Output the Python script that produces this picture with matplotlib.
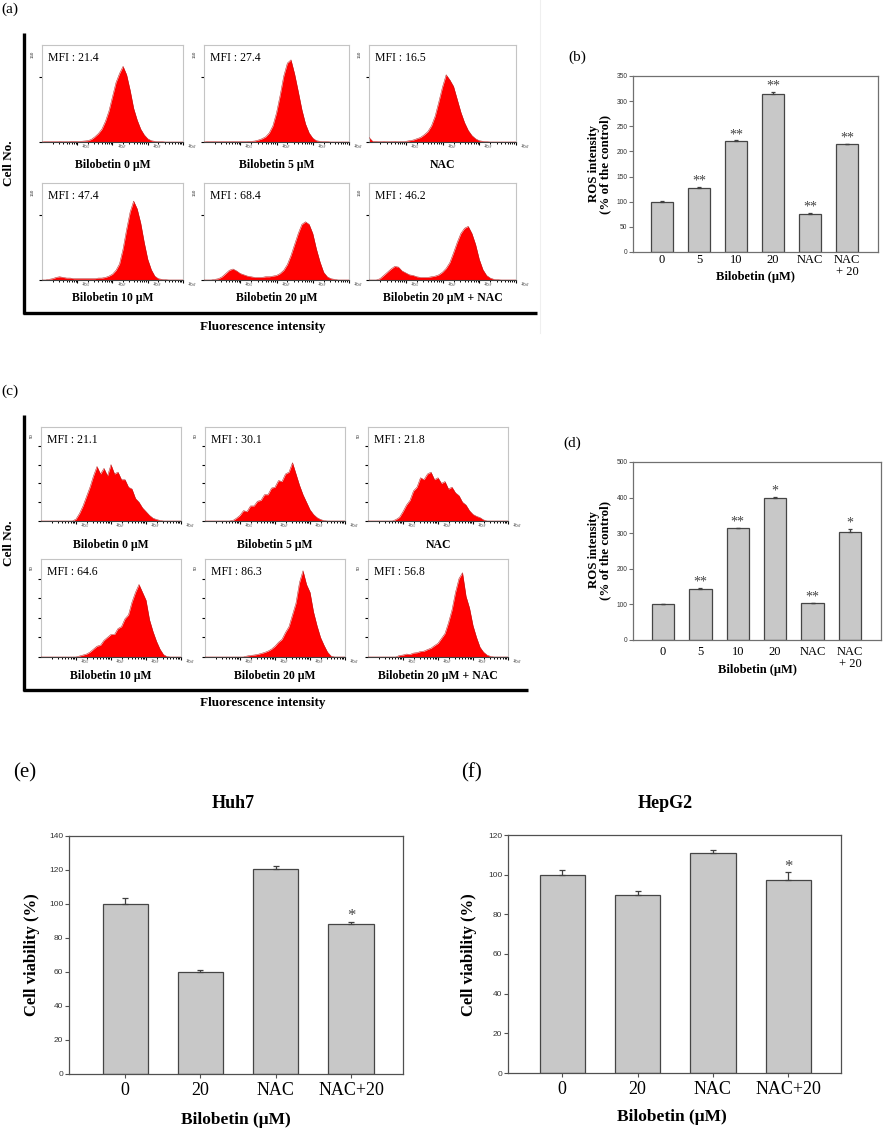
import numpy as np
import matplotlib
matplotlib.use('Agg')
import matplotlib.pyplot as plt
from matplotlib.lines import Line2D
from matplotlib.ticker import FixedLocator, NullFormatter

W, H = 886, 1130
SERIF = 'Liberation Serif'
SANS = 'Liberation Sans'

# ---------------- Flow cytometry histograms (log10 channel -> cell count) ----------------
LOG_BINS = [0.0, 0.1, 0.2, 0.3, 0.4, 0.5, 0.6, 0.7, 0.8, 0.9,
            1.0, 1.1, 1.2, 1.3, 1.4, 1.5, 1.6, 1.7, 1.8, 1.9,
            2.0, 2.1, 2.2, 2.3, 2.4, 2.5, 2.6, 2.7, 2.8, 2.9,
            3.0, 3.1, 3.2, 3.3, 3.4, 3.5, 3.6, 3.7, 3.8, 3.9, 4.0]

# panel (a)
hist_a_0uM = [0, 0.5, 0.5, 0.5, 0.5, 1, 0.5, 0.5, 1, 1,
              1, 1, 1.5, 2, 4, 8, 13, 20, 32, 48,
              70, 92, 106, 117, 104, 80, 52, 34, 20, 11,
              5, 2, 1, 0.5, 0.5, 0, 0, 0, 0, 0, 0]
hist_a_5uM = [0, 0.5, 0.5, 0.5, 0.5, 0.5, 0.5, 0.5, 0.5, 0.5,
              0.5, 0.5, 1, 1, 1.5, 3, 5, 8, 14, 25,
              45, 72, 102, 122, 127, 105, 78, 50, 28, 14,
              6, 2, 1, 0.5, 0.5, 0, 0, 0, 0, 0, 0]
hist_a_nac = [7, 1, 1, 0.5, 1, 0.5, 0.5, 1, 0.5, 0.5,
              1, 2, 3, 5, 7, 11, 16, 25, 40, 62,
              85, 104, 96, 86, 66, 46, 30, 18, 10, 5,
              2, 1, 0.5, 0, 0, 0, 0, 0, 0, 0, 0]
hist_a_10uM = [0, 0, 1, 2, 4, 5, 4, 3, 3, 2,
               2, 2, 2, 2, 2, 2, 3, 3, 4, 6,
               9, 15, 25, 48, 78, 105, 122, 110, 88, 58,
               32, 16, 6, 2, 1, 0.5, 0, 0, 0, 0, 0]
hist_a_20uM = [0, 0, 0, 1, 2, 5, 10, 15, 17, 14,
               10, 8, 6, 5, 4, 4, 4, 5, 5, 6,
               7, 10, 15, 24, 38, 55, 72, 86, 90, 86,
               72, 48, 28, 12, 5, 2, 1, 0, 0, 0, 0]
hist_a_20nac = [0, 0, 0, 2, 7, 12, 17, 21, 20, 14,
                11, 8, 7, 5, 4, 4, 4, 5, 6, 8,
                12, 18, 27, 42, 58, 72, 80, 83, 72, 55,
                32, 16, 7, 3, 1, 0.5, 0, 0, 0, 0, 0]

# panel (c)
hist_c_0uM = [0, 0, 0, 0, 0, 0, 0, 0, 0, 0,
              1, 4, 8, 13, 18, 24, 29, 25, 28, 24,
              30, 25, 26, 22, 22, 18, 17, 12, 10, 7,
              5, 3, 1.5, 0.8, 0.3, 0, 0, 0, 0, 0, 0]
hist_c_5uM = [0, 0, 0, 0, 0, 0, 0, 0, 0.3, 1.5,
              3, 5.5, 5, 8, 8, 10.5, 11, 14, 14, 17.5,
              18, 21.5, 21, 25, 26, 31, 25, 19, 14, 10,
              6, 3.5, 1.8, 0.8, 0.2, 0, 0, 0, 0, 0, 0]
hist_c_nac = [0, 0, 0, 0, 0, 0, 0, 0, 0.8, 2,
              5, 8.5, 11, 16, 18, 23, 22, 25, 26, 22,
              23, 20, 21, 17, 18, 15, 13.5, 10, 8.5, 5.5,
              3.5, 2.5, 1.8, 0.6, 0, 0, 0, 0, 0, 0, 0]
hist_c_10uM = [0, 0, 0, 0, 0, 0, 0, 0, 0, 0,
               0, 0.5, 1, 1.5, 2.5, 4, 5.5, 6, 8.5, 10,
               11.5, 11.5, 14.5, 15.5, 19.5, 21.5, 28, 33, 37, 33,
               29, 19, 13, 8, 4, 1.2, 0.2, 0, 0, 0, 0]
hist_c_20uM = [0, 0, 0, 0, 0, 0, 0, 0, 0, 0,
               0, 0, 0.5, 0.8, 1, 1.3, 1.8, 2.3, 3, 4,
               5.5, 7.5, 9, 12.5, 15.5, 21.5, 27.5, 38, 44, 37,
               33, 23, 16, 10, 6, 2.5, 0.5, 0, 0, 0, 0]
hist_c_20nac = [0, 0, 0, 0, 0, 0, 0, 0, 0, 0.8,
                1, 1.5, 1.3, 2, 2.2, 2.8, 3, 3.8, 4.5, 5.8,
                7, 9.5, 12, 17.5, 24, 33, 40, 43, 31, 25,
                16, 10, 5, 2.5, 1, 0.3, 0, 0, 0, 0, 0]

hist_titles = ['Bilobetin 0 μM', 'Bilobetin 5 μM', 'NAC',
               'Bilobetin 10 μM', 'Bilobetin 20 μM', 'Bilobetin 20 μM + NAC']
mfi_a = [21.4, 27.4, 16.5, 47.4, 68.4, 46.2]
mfi_c = [21.1, 30.1, 21.8, 64.6, 86.3, 56.8]

# ---------------- ROS bar charts ----------------
ros_labels = ['0', '5', '10', '20', 'NAC', 'NAC\n+ 20']
ros_b = [100, 127.5, 220.5, 315, 76, 214]
ros_b_err = [1, 1.2, 1.5, 2.5, 1, 1.5]
ros_b_stars = ['', '**', '**', '**', '**', '**']
ros_d = [100, 144.5, 313.5, 399, 103, 304.5]
ros_d_err = [1, 1.2, 1.5, 3.5, 1.5, 6.5]
ros_d_stars = ['', '**', '**', '*', '**', '*']

# ---------------- Cell viability ----------------
via_labels = ['0', '20', 'NAC', 'NAC+20']
via_huh7 = [100, 60, 120.5, 88]
via_huh7_err = [3.6, 1.3, 1.7, 1.7]
via_huh7_stars = ['', '', '', '*']
via_hepg2 = [100, 90, 111, 97.5]
via_hepg2_err = [2.2, 1.6, 1.3, 3.7]
via_hepg2_stars = ['', '', '', '*']

fig = plt.figure(figsize=(W / 100, H / 100), dpi=100)


def px_axes(l, t, r, b):
    return fig.add_axes([l / W, 1 - b / H, (r - l) / W, (b - t) / H])


def ftext(x, y, s, **kw):
    kw.setdefault('ha', 'center')
    kw.setdefault('va', 'center')
    kw.setdefault('family', SERIF)
    return fig.text(x / W, 1 - y / H, s, **kw)


def fline(x0, y0, x1, y1, **kw):
    fig.add_artist(Line2D([x0 / W, x1 / W], [1 - y0 / H, 1 - y1 / H],
                          transform=fig.transFigure, **kw))


def draw_hist(ax, counts, ymax, yticks, toplabel):
    x = 10 ** np.asarray(LOG_BINS)
    y = np.asarray(counts, dtype=float)
    ax.fill_between(x, 0, y, color='#ff0000', lw=0, zorder=2)
    ax.plot(x, y, color='#b41818', lw=0.35, zorder=3)
    ax.set_xscale('log')
    ax.set_xlim(1, 1e4)
    ax.set_ylim(0, ymax)
    ax.xaxis.set_major_locator(FixedLocator([10, 100, 1000, 10000]))
    ax.xaxis.set_minor_locator(FixedLocator([m * 10 ** d for d in range(4) for m in range(2, 10)]))
    ax.xaxis.set_major_formatter(NullFormatter())
    ax.xaxis.set_minor_formatter(NullFormatter())
    ax.set_yticks(yticks)
    ax.set_yticklabels([])
    ax.tick_params(axis='both', which='major', direction='out', length=2.5, width=0.8, color='black')
    ax.tick_params(axis='x', which='minor', direction='out', length=1.6, width=0.7, color='black')
    for s in ['top', 'right', 'left']:
        ax.spines[s].set_color('#c4c4c4')
        ax.spines[s].set_linewidth(0.8)
    ax.spines['bottom'].set_color('#404040')
    ax.spines['bottom'].set_linewidth(0.8)
    for d, lab in zip([10, 100, 1000, 10000], ['1', '2', '3', '4']):
        ax.annotate(r'$10^{%s}$' % lab, (d, 0), xytext=(1.5, -3.5), textcoords='offset points',
                    fontsize=3.2, ha='left', va='center', rotation=-20, color='#222222')
    ax.annotate(toplabel, (0, 1), xycoords='axes fraction', xytext=(-6.5, -6.5),
                textcoords='offset points', fontsize=3.2, rotation=90, ha='center', va='center',
                family=SANS, color='#222222')


def hist_block(hists, mfis, cols, rows, label_ys, ymax, yticks, toplabel):
    for i, (h, m, t) in enumerate(zip(hists, mfis, hist_titles)):
        r, c = divmod(i, 3)
        l, rr = cols[c]
        tp, bt = rows[r]
        ax = px_axes(l, tp, rr, bt)
        draw_hist(ax, h, ymax, yticks, toplabel)
        ftext(l + 6, tp + 13, 'MFI : %.1f' % m, ha='left', fontsize=8.5)
        ftext((l + rr) / 2, label_ys[r], t, fontsize=8.5, fontweight='bold')


# ---------------- Panel (a) ----------------
ftext(1, 9, '(a)', ha='left', fontsize=11)
hist_block([hist_a_0uM, hist_a_5uM, hist_a_nac, hist_a_10uM, hist_a_20uM, hist_a_20nac], mfi_a,
           [(42, 183), (204, 349), (369, 516)], [(45, 142), (183, 280)], [165, 298],
           150, [0, 100], '150')
fline(24, 33, 24, 314, color='black', lw=2.4, solid_capstyle='butt')
fline(23, 313, 537, 313, color='black', lw=2.4, solid_capstyle='butt')
ftext(9, 163, 'Cell No.', rotation=90, fontsize=9.5, fontweight='bold')
ftext(263, 327, 'Fluorescence intensity', fontsize=9.5, fontweight='bold')
fline(540, 0, 540, 333, color='#efefef', lw=0.8)

# ---------------- Panel (c) ----------------
ftext(1, 391, '(c)', ha='left', fontsize=11)
hist_block([hist_c_0uM, hist_c_5uM, hist_c_nac, hist_c_10uM, hist_c_20uM, hist_c_20nac], mfi_c,
           [(41, 181), (205, 345), (368, 508)], [(427, 521), (559, 657)], [545, 676],
           50, [0, 10, 20, 30, 40], '50')
fline(24, 415, 24, 691, color='black', lw=2.4, solid_capstyle='butt')
fline(23, 690, 528, 690, color='black', lw=2.4, solid_capstyle='butt')
ftext(9, 543, 'Cell No.', rotation=90, fontsize=9.5, fontweight='bold')
ftext(263, 703, 'Fluorescence intensity', fontsize=9.5, fontweight='bold')


def draw_bars(ax, labels, values, errs, stars, ymax, ystep, xlim, width, tick_fs, tick_pad,
              ytick_fs, star_fs, star_off, xtick_len, spine_c, cap):
    x = np.arange(len(values))
    ax.bar(x, values, width=width, color='#c8c8c8', edgecolor='#454545', linewidth=0.9, zorder=2)
    ax.errorbar(x, values, yerr=[np.zeros(len(errs)), errs], fmt='none', ecolor='#404040',
                elinewidth=0.9, capsize=cap, capthick=0.9, zorder=3)
    for xi, v, e, s in zip(x, values, errs, stars):
        if s:
            ax.annotate(s, (xi, v + e), xytext=(0, star_off), textcoords='offset points',
                        ha='center', va='bottom', fontsize=star_fs, family=SERIF, color='#444444')
    ax.set_xlim(*xlim)
    ax.set_ylim(0, ymax)
    ax.set_yticks(np.arange(0, ymax + 1, ystep))
    ax.set_xticks(x)
    ax.set_xticklabels(labels, family=SERIF, fontsize=tick_fs, linespacing=0.95)
    for lab in ax.get_yticklabels():
        lab.set_family(SANS)
        lab.set_fontsize(ytick_fs)
        lab.set_color('#333333')
    ax.tick_params(axis='y', direction='out', length=3, width=0.8, pad=1, color=spine_c)
    ax.tick_params(axis='x', direction='out', length=xtick_len, width=0.8, pad=tick_pad, color=spine_c)
    for s in ax.spines.values():
        s.set_color(spine_c)
        s.set_linewidth(0.9)


# ---------------- Panel (b) ----------------
ftext(577, 57, '(b)', fontsize=11)
ax_b = px_axes(633, 76, 878, 252)
draw_bars(ax_b, ros_labels, ros_b, ros_b_err, ros_b_stars, 350, 50, (-0.78, 5.84), 0.58,
          9, 1.5, 4.8, 10, -0.5, 0, '#707070', 1.5)
ftext(600, 164, 'ROS intensity\n(% of the control)', rotation=90, fontsize=9.3,
      fontweight='bold', linespacing=0.95)
ftext(755, 277, 'Bilobetin (μM)', fontsize=9, fontweight='bold')

# ---------------- Panel (d) ----------------
ftext(572, 443, '(d)', fontsize=11)
ax_d = px_axes(633, 462, 881, 640)
draw_bars(ax_d, ros_labels, ros_d, ros_d_err, ros_d_stars, 500, 100, (-0.8, 5.83), 0.6,
          9, 4.5, 4.8, 10, -0.5, 0, '#707070', 1.5)
ftext(600, 550, 'ROS intensity\n(% of the control)', rotation=90, fontsize=9.3,
      fontweight='bold', linespacing=0.95)
ftext(757, 670, 'Bilobetin (μM)', fontsize=9, fontweight='bold')

# ---------------- Panel (e) ----------------
ftext(25, 773, '(e)', fontsize=15)
ftext(233, 803, 'Huh7', fontsize=13, fontweight='bold')
ax_e = px_axes(69, 836, 403, 1074)
draw_bars(ax_e, via_labels, via_huh7, via_huh7_err, via_huh7_stars, 140, 20, (-0.745, 3.69), 0.6,
          13, 3, 6, 12, -2, 3, '#505050', 2.5)
ftext(32, 955, 'Cell viability (%)', rotation=90, fontsize=12, fontweight='bold')
ftext(236, 1120, 'Bilobetin (μM)', fontsize=12.5, fontweight='bold')

# ---------------- Panel (f) ----------------
ftext(472, 773, '(f)', fontsize=15)
ftext(665, 803, 'HepG2', fontsize=13, fontweight='bold')
ax_f = px_axes(508, 835, 841, 1073)
draw_bars(ax_f, via_labels, via_hepg2, via_hepg2_err, via_hepg2_stars, 120, 20, (-0.72, 3.70), 0.6,
          13, 3, 6, 12, -2, 3, '#505050', 2.5)
ftext(469, 955, 'Cell viability (%)', rotation=90, fontsize=12, fontweight='bold')
ftext(672, 1117, 'Bilobetin (μM)', fontsize=12.5, fontweight='bold')

fig.savefig('out.png', dpi=100, facecolor='white')
